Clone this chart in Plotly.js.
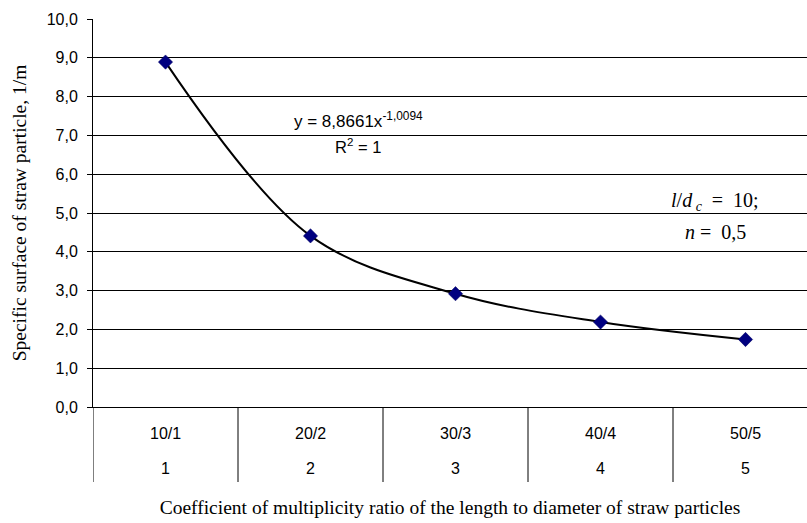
<!DOCTYPE html>
<html>
<head>
<meta charset="utf-8">
<script src="https://cdn.plot.ly/plotly-3.0.1.min.js"></script>
<style>html,body{margin:0;padding:0;background:#fff;}#chart{width:807px;height:523px;}</style>
</head>
<body>
<div id="chart"></div>
<script>
// Data
const categories = ['10/1', '20/2', '30/3', '40/4', '50/5'];
const ratioLabels = ['1', '2', '3', '4', '5'];
const xIndex = [1, 2, 3, 4, 5];
const surface = [8.89, 4.41, 2.92, 2.19, 1.74];

const equationText = 'y = 8,8661x<sup>-1,0094</sup>';
const r2Text = 'R<sup>2</sup> = 1';
const paramText1 = '<i>l</i>/<i>d</i><sub> <i>c</i></sub>&nbsp; = &nbsp;10;';
const paramText2 = '<i>n</i> = &nbsp;0,5';

const W = 807, H = 523;
const mL = 93, mR = 0, mT = 19, mB = 116;
const plotH = H - mT - mB;
const pxPerCat = 145;
const xMax = 0.5 + (W - mL - mR) / pxPerCat;

const sans = 'Liberation Sans, Arial, sans-serif';
const serif = 'Liberation Serif, Times New Roman, serif';

const traces = [
  {
    x: xIndex, y: surface, type: 'scatter', mode: 'lines',
    line: {color: '#000000', width: 2, shape: 'spline', smoothing: 1},
    hoverinfo: 'skip', showlegend: false
  },
  {
    x: xIndex, y: surface, type: 'scatter', mode: 'markers',
    marker: {symbol: 'diamond', size: 11, color: '#000080', line: {color: '#000060', width: 0.5}},
    showlegend: false
  }
];

const shapes = [];
for (let i = 0; i <= categories.length - 1; i++) {
  shapes.push({
    type: 'line', xref: 'x', yref: 'paper',
    x0: i + 0.5, x1: i + 0.5, y0: 0, y1: -75 / plotH,
    line: {color: '#000000', width: 1}
  });
}

const annotations = [];
categories.forEach((c, i) => {
  annotations.push({
    x: xIndex[i], y: -26 / plotH, xref: 'x', yref: 'paper', text: c,
    showarrow: false, font: {family: sans, size: 16, color: '#000'}, yanchor: 'middle'
  });
  annotations.push({
    x: xIndex[i], y: -62 / plotH, xref: 'x', yref: 'paper', text: ratioLabels[i],
    showarrow: false, font: {family: sans, size: 16, color: '#000'}, yanchor: 'middle'
  });
});
annotations.push({
  x: 0.5 + (358 - mL) / pxPerCat, y: (H - mB - 120) / plotH * 10,
  xref: 'x', yref: 'y', text: equationText, showarrow: false,
  font: {family: sans, size: 17, color: '#000'}, yanchor: 'middle'
});
annotations.push({
  x: 0.5 + (358 - mL) / pxPerCat, y: (H - mB - 146) / plotH * 10,
  xref: 'x', yref: 'y', text: r2Text, showarrow: false,
  font: {family: sans, size: 16.5, color: '#000'}, yanchor: 'middle'
});
annotations.push({
  x: 0.5 + (715 - mL) / pxPerCat, y: (H - mB - 201) / plotH * 10,
  xref: 'x', yref: 'y', text: paramText1, showarrow: false,
  font: {family: serif, size: 20, color: '#000'}, yanchor: 'middle'
});
annotations.push({
  x: 0.5 + (715 - mL) / pxPerCat, y: (H - mB - 232) / plotH * 10,
  xref: 'x', yref: 'y', text: paramText2, showarrow: false,
  font: {family: serif, size: 20, color: '#000'}, yanchor: 'middle'
});

const layout = {
  width: W, height: H,
  margin: {l: mL, r: mR, t: mT, b: mB, pad: 0},
  paper_bgcolor: '#ffffff', plot_bgcolor: '#ffffff',
  separators: ', ',
  showlegend: false,
  xaxis: {
    range: [0.5, xMax], showgrid: false, zeroline: false,
    showticklabels: false, ticks: '',
    showline: true, linecolor: '#000', linewidth: 1,
    title: {
      text: 'Coefficient of multiplicity ratio of the length to diameter of straw particles',
      font: {family: serif, size: 19.5, color: '#000'}, standoff: 93
    },
    automargin: false, fixedrange: true
  },
  yaxis: {
    range: [0, 10], dtick: 1, tick0: 0, tickformat: '.1f',
    showgrid: true, gridcolor: '#000', gridwidth: 1, zeroline: false,
    showline: true, linecolor: '#000', linewidth: 1,
    ticks: 'outside', ticklen: 5, tickcolor: '#000', tickwidth: 1,
    ticklabelstandoff: 6,
    tickfont: {family: sans, size: 16, color: '#000'},
    title: {
      text: 'Specific surface of straw particle, 1/m',
      font: {family: serif, size: 19.5, color: '#000'}, standoff: 14
    },
    automargin: false, fixedrange: true
  },
  shapes: shapes,
  annotations: annotations
};

Plotly.newPlot('chart', traces, layout, {displayModeBar: false, staticPlot: true});
</script>
</body>
</html>
